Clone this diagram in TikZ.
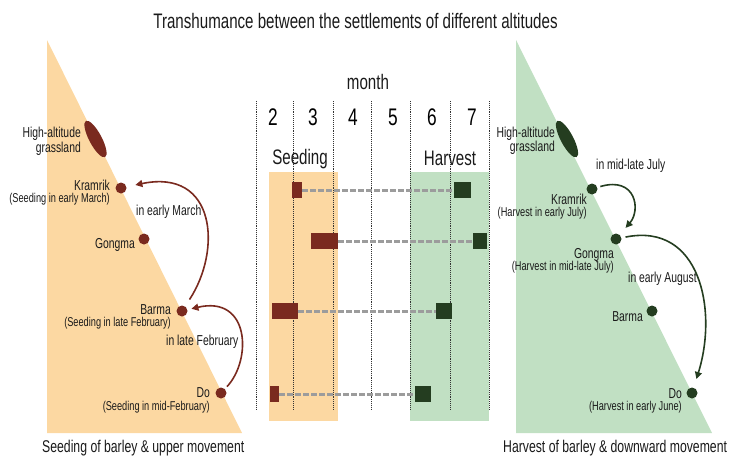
\documentclass[tikz,border=0pt]{standalone}
\usepackage{fontspec}
\setmainfont[FakeStretch=0.72]{Liberation Sans}
\usetikzlibrary{arrows.meta,shapes.geometric}
\definecolor{orfill}{HTML}{FCD8A2}
\definecolor{grfill}{HTML}{C1E0C3}
\definecolor{brn}{HTML}{7A2A1F}
\definecolor{dgr}{HTML}{243D20}
\definecolor{txt}{HTML}{1A1A1A}
\definecolor{dashgray}{HTML}{9C9C9C}
\newcommand{\subsz}{\fontsize{12.8}{12.3}\selectfont}
\begin{document}
\begin{tikzpicture}[x=1pt,y=-1pt,
  lbl/.style={inner sep=0pt,text=txt,font=\fontsize{14.4}{12.3}\selectfont},
  pair/.style={inner sep=0pt,text=txt,align=right,font=\fontsize{14.4}{12.3}\selectfont},
  biglbl/.style={inner sep=0pt,text=txt,font=\fontsize{21}{21}\selectfont},
  caplbl/.style={inner sep=0pt,text=txt,font=\fontsize{17}{17}\selectfont},
  digit/.style={inner sep=0pt,text=black,font=\fontsize{24}{24}\selectfont},
  dotL/.style={circle,fill=brn,minimum size=11pt,inner sep=0pt},
  dotR/.style={circle,fill=dgr,minimum size=11pt,inner sep=0pt},
  ellL/.style={ellipse,fill=brn,minimum width=41pt,minimum height=12.5pt,inner sep=0pt,rotate=-62},
  ellR/.style={ellipse,fill=dgr,minimum width=41pt,minimum height=12.5pt,inner sep=0pt,rotate=-62},
  barL/.style={rectangle,fill=brn,inner sep=0pt,minimum height=16pt},
  barR/.style={rectangle,fill=dgr,inner sep=0pt,minimum height=16pt},
  brarrow/.style={draw=brn,line width=1.6pt,-{Triangle[length=7pt,width=7pt]}},
  grarrow/.style={draw=dgr,line width=1.6pt,-{Triangle[length=7pt,width=7pt]}},
  gridline/.style={draw=black!80,line width=0.9pt,densely dotted},
  dashline/.style={draw=dashgray,line width=3pt,dash pattern=on 5.5pt off 2.5pt}
]
\useasboundingbox (0,0) rectangle (730,455);
% triangles
\fill[orfill] (47,40) -- (47,433) -- (242,433) -- cycle;
\fill[grfill] (516,40) -- (516,433) -- (712,433) -- cycle;
% middle boxes
\fill[orfill] (269,172) rectangle (338,421);
\fill[grfill] (410,172) rectangle (489,421);
% grid
\foreach \gx in {256,293,333,371,410,450,489}
  \draw[gridline] (\gx,101) -- (\gx,410);
% title
\node[biglbl,anchor=base] (title) at (355.5,28) {Transhumance between the settlements of different altitudes};
\node[biglbl,anchor=base] (month) at (368,89) {month};
\node[digit,anchor=base] (m2) at (273,125) {2};
\node[digit,anchor=base] (m3) at (313,125) {3};
\node[digit,anchor=base] (m4) at (353,125) {4};
\node[digit,anchor=base] (m5) at (393,125) {5};
\node[digit,anchor=base] (m6) at (432,125) {6};
\node[digit,anchor=base] (m7) at (472,125) {7};
\node[biglbl,anchor=base] (seedh) at (300,164) {Seeding};
\node[biglbl,anchor=base] (harvh) at (450,165) {Harvest};
% bars
\node[barL,minimum width=10pt] (b1) at (297,190) {};
\node[barR,minimum width=17pt] (g1) at (462.5,190) {};
\node[barL,minimum width=27pt] (b2) at (324.5,241) {};
\node[barR,minimum width=14pt] (g2) at (480,241) {};
\node[barL,minimum width=26pt] (b3) at (285,311) {};
\node[barR,minimum width=16pt] (g3) at (444,311) {};
\node[barL,minimum width=9pt] (b4) at (274.5,394) {};
\node[barR,minimum width=16pt] (g4) at (423,394) {};
\draw[dashline] (b1.east) -- (g1.west);
\draw[dashline] (b2.east) -- (g2.west);
\draw[dashline] (b3.east) -- (g3.west);
\draw[dashline] (b4.east) -- (g4.west);
% left side
\node[ellL] (hgL) at (95.5,139) {};
\node[dotL] (krL) at (121,188) {};
\node[dotL] (goL) at (144,239) {};
\node[dotL] (baL) at (182,311) {};
\node[dotL] (doL) at (221,393) {};
\node[pair,anchor=base east] (hgLt) at (81,152) {High-altitude\\grassland};
\node[pair,anchor=base east] (krLt) at (110,202.5) {Kramrik\\{\subsz(Seeding in early March)}};
\node[lbl,anchor=base west] (arL1) at (136,215) {in early March};
\node[lbl,anchor=base east] (goL1) at (135,248) {Gongma};
\node[pair,anchor=base east] (baLt) at (171,326.5) {Barma\\{\subsz(Seeding in late February)}};
\node[lbl,anchor=base west] (arL2) at (166,345.5) {in late February};
\node[pair,anchor=base east] (doLt) at (210,410) {Do\\{\subsz(Seeding in mid-February)}};
\node[caplbl,anchor=base west] (capL) at (42,452) {Seeding of barley \& upper movement};
\draw[brarrow,shorten <=8pt,shorten >=9pt] (baL) .. controls (222,250) and (216,168) .. (krL);
\draw[brarrow,shorten <=3pt,shorten >=4pt] (doL) .. controls (252,360) and (250,295) .. (baL);
% right side
\node[ellR] (hgR) at (567,139) {};
\node[dotR] (krR) at (592,189) {};
\node[dotR] (goR) at (616,239) {};
\node[dotR] (baR) at (652,311) {};
\node[dotR] (doR) at (692,393) {};
\node[pair,anchor=base east] (hgRt) at (555,151.5) {High-altitude\\grassland};
\node[lbl,anchor=base west] (arR1) at (596,169.5) {in mid-late July};
\node[pair,anchor=base east] (krRt) at (587,216.5) {Kramrik\\{\subsz(Harvest in early July)}};
\node[pair,anchor=base east] (goRt) at (614,270.5) {Gongma\\{\subsz(Harvest in mid-late July)}};
\node[lbl,anchor=base west] (arR2) at (628,282) {in early August};
\node[lbl,anchor=base east] (baR1) at (643,321) {Barma};
\node[pair,anchor=base east] (doRt) at (682,410.5) {Do\\{\subsz(Harvest in early June)}};
\node[caplbl,anchor=base west] (capR) at (503,452) {Harvest of barley \& downward movement};
\draw[grarrow,shorten <=3pt,shorten >=9pt] (krR) .. controls (636,176) and (641,210) .. (goR);
\draw[grarrow,shorten <=4pt,shorten >=9pt] (goR) .. controls (700,222) and (718,310) .. (doR);
\end{tikzpicture}
\end{document}
